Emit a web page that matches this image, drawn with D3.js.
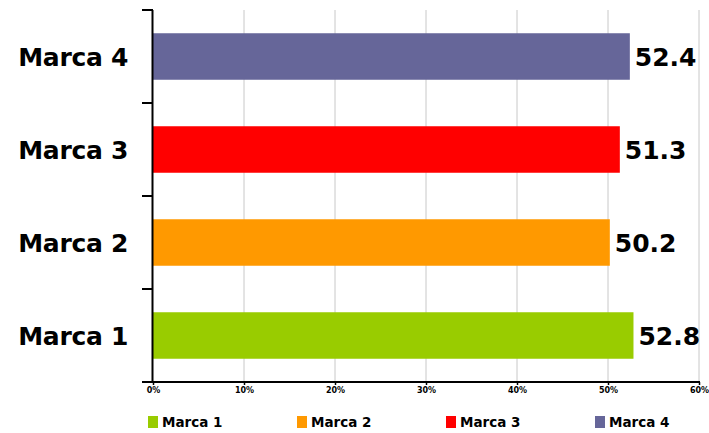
<!DOCTYPE html>
<html>
<head>
<meta charset="utf-8">
<script src="https://cdn.jsdelivr.net/npm/d3@7"></script>
<style>
  html, body { margin: 0; padding: 0; background: #fff; }
  svg { display: block; font-family: "DejaVu Sans", Verdana, sans-serif; }
</style>
</head>
<body>
<svg id="chart" width="709" height="433"></svg>
<script>
// Brand scores (percent)
const categories = ["Marca 1", "Marca 2", "Marca 3", "Marca 4"];
const values = [52.8, 50.2, 51.3, 52.4];
const colors = ["#99CC00", "#FF9900", "#FF0000", "#666699"];
const xTicks = [0, 10, 20, 30, 40, 50, 60];

const svg = d3.select("#chart");
const margin = { left: 153, right: 10, top: 10, bottom: 51 };
const width = 709, height = 433;

const x = d3.scaleLinear().domain([0, 60]).range([margin.left, width - margin.right]);
// Top-to-bottom order: Marca 4 ... Marca 1
const y = d3.scaleBand()
  .domain(categories.slice().reverse())
  .range([margin.top, height - margin.bottom])
  .paddingInner(0.5)
  .paddingOuter(0.25);

const data = categories.map((c, i) => ({ cat: c, value: values[i], color: colors[i] }));

// Vertical gridlines
svg.append("g")
  .selectAll("line")
  .data(xTicks.filter(d => d > 0))
  .join("line")
  .attr("x1", d => x(d)).attr("x2", d => x(d))
  .attr("y1", margin.top).attr("y2", height - margin.bottom)
  .attr("stroke", "#c8c8c8")
  .attr("stroke-width", 1);

// Bars
svg.append("g")
  .selectAll("rect")
  .data(data)
  .join("rect")
  .attr("x", x(0))
  .attr("y", d => y(d.cat))
  .attr("width", d => x(d.value) - x(0))
  .attr("height", y.bandwidth())
  .attr("fill", d => d.color);

// Value labels
svg.append("g")
  .selectAll("text")
  .data(data)
  .join("text")
  .attr("x", d => x(d.value) + 5)
  .attr("y", d => y(d.cat) + y.bandwidth() / 2)
  .attr("dy", "0.36em")
  .attr("font-size", 25)
  .attr("font-weight", "bold")
  .attr("fill", "#000")
  .text(d => d.value.toFixed(1));

// Category axis (left) with ticks at band boundaries
const step = y.step();
const boundaries = y.domain().map(d => y(d) - y.paddingOuter() * step);
boundaries.push(height - margin.bottom);
const yAxis = svg.append("g");
yAxis.append("line")
  .attr("x1", x(0) - 0.5).attr("x2", x(0) - 0.5)
  .attr("y1", margin.top).attr("y2", height - margin.bottom)
  .attr("stroke", "#000").attr("stroke-width", 2);
yAxis.selectAll("line.tick")
  .data(boundaries)
  .join("line")
  .attr("class", "tick")
  .attr("x1", x(0) - 11).attr("x2", x(0))
  .attr("y1", d => d).attr("y2", d => d)
  .attr("stroke", "#000").attr("stroke-width", 2);
yAxis.selectAll("text")
  .data(data)
  .join("text")
  .attr("x", 128)
  .attr("y", d => y(d.cat) + y.bandwidth() / 2)
  .attr("dy", "0.36em")
  .attr("text-anchor", "end")
  .attr("font-size", 25)
  .attr("font-weight", "bold")
  .attr("letter-spacing", -0.3)
  .attr("fill", "#000")
  .text(d => d.cat);

// Value axis (bottom)
const xAxis = svg.append("g")
  .attr("transform", `translate(0,${height - margin.bottom})`)
  .call(d3.axisBottom(x).tickValues(xTicks).tickSize(3).tickFormat(d => d + "%"));
xAxis.select(".domain").remove();
xAxis.insert("line", ":first-child")
  .attr("x1", x(0) - 11).attr("x2", x(60) + 1)
  .attr("y1", 0).attr("y2", 0)
  .attr("stroke", "#000").attr("stroke-width", 2);
xAxis.selectAll(".tick line").attr("stroke", "#000").attr("stroke-width", 1.5);
xAxis.selectAll(".tick text")
  .attr("y", 5)
  .attr("font-size", 8)
  .attr("font-weight", "bold")
  .attr("font-family", "\"DejaVu Sans\", Verdana, sans-serif")
  .attr("fill", "#000");

// Legend
const legendX = [148, 297, 446, 595];
const legend = svg.append("g")
  .selectAll("g")
  .data(data)
  .join("g")
  .attr("transform", (d, i) => `translate(${legendX[i]},416)`);
legend.append("rect")
  .attr("width", 10).attr("height", 12)
  .attr("fill", d => d.color);
legend.append("text")
  .attr("x", 14).attr("y", 6)
  .attr("dy", "0.36em")
  .attr("font-size", 13.5)
  .attr("font-weight", "bold")
  .attr("fill", "#000")
  .text(d => d.cat);
</script>
</body>
</html>
